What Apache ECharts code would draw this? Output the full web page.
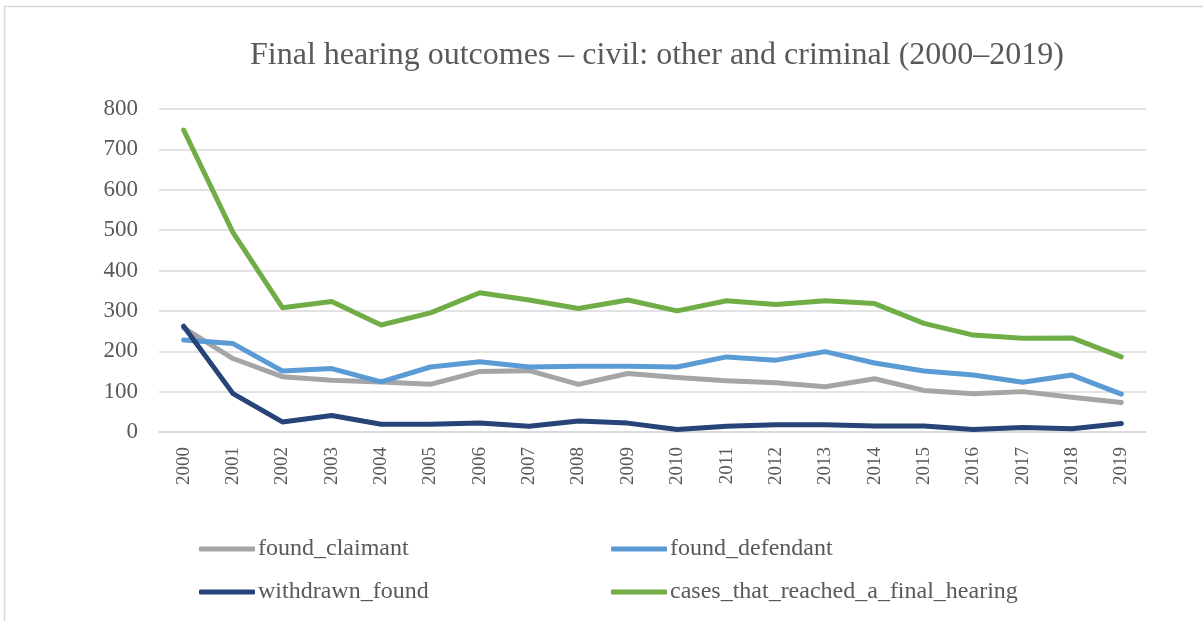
<!DOCTYPE html>
<html>
<head>
<meta charset="utf-8">
<script src="https://cdn.jsdelivr.net/npm/echarts@6/dist/echarts.min.js"></script>
<style>
html,body{margin:0;padding:0;background:#fff;}
#chart{width:1203px;height:621px;}
</style>
</head>
<body>
<div id="chart"></div>
<script>
var years = ['2000','2001','2002','2003','2004','2005','2006','2007','2008','2009','2010','2011','2012','2013','2014','2015','2016','2017','2018','2019'];
var foundClaimant = [258,182,137,128,124,118,150,152,118,145,135,127,122,112,132,103,95,100,86,73];
var foundDefendant = [228,219,151,157,124,161,174,161,163,163,161,186,178,199,171,151,141,123,141,94];
var withdrawnFound = [262,95,25,41,19,19,22,14,27,22,6,14,18,18,15,15,6,11,8,21];
var casesFinalHearing = [748,494,308,323,265,295,345,327,306,327,300,325,316,325,318,269,240,232,233,186];
var seriesNames = ['found_claimant','found_defendant','withdrawn_found','cases_that_reached_a_final_hearing'];
var seriesColors = ['#A5A5A5','#5B9BD5','#264478','#70AD47'];
var seriesData = [foundClaimant, foundDefendant, withdrawnFound, casesFinalHearing];

var chart = echarts.init(document.getElementById('chart'), null, {renderer:'canvas'});
var FONT = '"Liberation Serif", "Times New Roman", serif';
var TXT = '#595959';

var legendPos = [
  {left:199, top:537},
  {left:611, top:537},
  {left:199, top:580},
  {left:611, top:580}
];

var option = {
  backgroundColor:'#fff',
  animation:false,
  title:{
    text:'Final hearing outcomes – civil: other and criminal (2000–2019)',
    left:652, top:35, textAlign:'center',
    textStyle:{fontFamily:FONT, fontSize:32, fontWeight:'normal', color:TXT}
  },
  graphic:[{
    type:'rect', shape:{x:4.5, y:6.5, width:1300, height:800},
    style:{fill:'none', stroke:'#D9D9D9', lineWidth:1.5}, silent:true
  }],
  legend: seriesNames.map(function(n,i){
    return {
      data:[n], left:legendPos[i].left, top:legendPos[i].top, padding:0,
      itemWidth:56, itemHeight:5, icon:'roundRect',
      textStyle:{fontFamily:FONT, fontSize:24, color:TXT, padding:[0,0,0,-2]}
    };
  }),
  grid:{left:159, right:57, top:109, bottom:189, containLabel:false},
  xAxis:{
    type:'category', data:years, boundaryGap:true,
    axisLine:{lineStyle:{color:'#D9D9D9', width:1.5}},
    axisTick:{show:false},
    axisLabel:{rotate:90, margin:15, fontFamily:FONT, fontSize:19, color:TXT, interval:0}
  },
  yAxis:{
    type:'value', min:0, max:800, interval:100,
    axisLine:{show:false}, axisTick:{show:false},
    axisLabel:{margin:21, fontFamily:FONT, fontSize:23, color:TXT},
    splitLine:{lineStyle:{color:'#D9D9D9', width:1.5}}
  },
  series: seriesNames.map(function(n,i){
    return {
      name:n, type:'line', data:seriesData[i], symbol:'none',
      itemStyle:{color:seriesColors[i]},
      lineStyle:{color:seriesColors[i], width:5, cap:'round', join:'round'}
    };
  })
};
chart.setOption(option);
</script>
</body>
</html>
